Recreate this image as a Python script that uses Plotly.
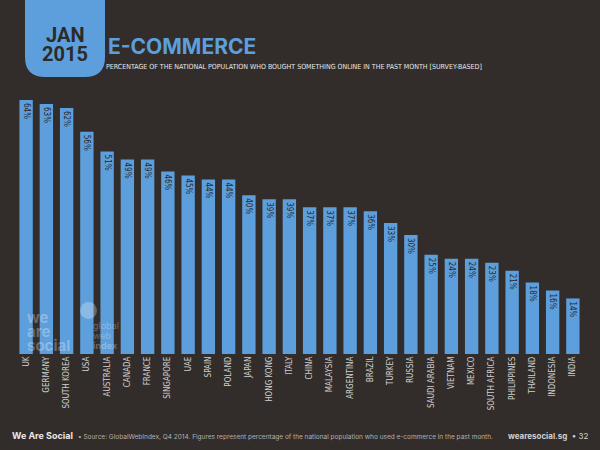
import plotly.graph_objects as go

countries = ["UK", "GERMANY", "SOUTH KOREA", "USA", "AUSTRALIA", "CANADA", "FRANCE",
             "SINGAPORE", "UAE", "SPAIN", "POLAND", "JAPAN", "HONG KONG", "ITALY",
             "CHINA", "MALAYSIA", "ARGENTINA", "BRAZIL", "TURKEY", "RUSSIA",
             "SAUDI ARABIA", "VIETNAM", "MEXICO", "SOUTH AFRICA", "PHILIPPINES",
             "THAILAND", "INDONESIA", "INDIA"]
ecommerce_pct = [64, 63, 62, 56, 51, 49, 49, 46, 45, 44, 44, 40, 39, 39,
                 37, 37, 37, 36, 33, 30, 25, 24, 24, 23, 21, 18, 16, 14]
bar_labels = [f"{v}%" for v in ecommerce_pct]

BG = "#322d2a"
BLUE = "#5d9fdc"
NARROW = "DejaVu Sans Condensed"

W, H = 600, 450
ML, MR, MT, MB = 16, 17, 100, 96

fig = go.Figure()
fig.add_trace(go.Bar(
    x=countries, y=ecommerce_pct,
    marker=dict(color=BLUE, line=dict(width=0)),
    text=bar_labels, textposition="inside", insidetextanchor="end",
    textangle=90, constraintext="none",
    textfont=dict(family=NARROW, size=8, color="#2a2a2a"),
    hoverinfo="x+y",
))

fig.update_layout(
    width=W, height=H,
    paper_bgcolor=BG, plot_bgcolor=BG,
    margin=dict(l=ML, r=MR, t=MT, b=MB),
    bargap=0.34,
    showlegend=False,
    xaxis=dict(tickangle=-90, showgrid=False, zeroline=False, showline=False,
               ticks="", range=[-0.5, 27.5],
               tickfont=dict(family=NARROW, size=8, color="#d0d0d0")),
    yaxis=dict(visible=False, range=[0, 64]),
)


# pixel -> paper coordinates
def px(x):
    return (x - ML) / (W - ML - MR)


def py(y):
    return (H - MB - y) / (H - MT - MB)


def note(x, y, text, size, color, family="Inter", anchor="center"):
    fig.add_annotation(x=px(x), y=py(y), xref="paper", yref="paper", showarrow=False,
                       xanchor=anchor, yanchor="middle", text=text,
                       font=dict(family=family, size=size, color=color))


# header box with rounded bottom corners
x0, x1, yt, yb = px(25), px(105), py(-5), py(77)
rx, ry = 20 / (W - ML - MR), 20 / (H - MT - MB)
fig.add_shape(type="path", xref="paper", yref="paper", layer="above",
              fillcolor=BLUE, line=dict(width=0),
              path=f"M {x0} {yt} L {x1} {yt} L {x1} {yb+ry} Q {x1} {yb} {x1-rx} {yb} "
                   f"L {x0+rx} {yb} Q {x0} {yb} {x0} {yb+ry} Z")

note(65, 35, "<b>JAN</b>", 20, "#2e2a28", "Roboto")
note(65, 54, "<b>2015</b>", 20, "#2e2a28", "Roboto")
note(106, 47, "<b>E-COMMERCE</b>", 21, BLUE, "Inter", "left")
note(104, 67, "PERCENTAGE OF THE NATIONAL POPULATION WHO BOUGHT SOMETHING ONLINE IN THE PAST MONTH [SURVEY-BASED]",
     7, "#e8e8e8", NARROW, "left")

# faint logos over the first bars
wm = "rgba(255,255,255,0.28)"
for i, word in enumerate(["we", "are", "social"]):
    note(25, 317 + i * 14, f"<b>{word}</b>", 15, wm, "Inter", "left")
fig.add_shape(type="circle", xref="paper", yref="paper", layer="above",
              x0=px(80), x1=px(97), y0=py(302), y1=py(319),
              fillcolor=wm, line=dict(width=0))
for i, word in enumerate(["global", "web", "<b>index</b>"]):
    note(91, 325 + i * 10, word, 9, wm, "Inter", "left")

# footer
note(10, 436, "<b>We Are Social</b>  <span style='font-size:6.5px;color:#b0b0b0'>"
              "• Source: GlobalWebIndex, Q4 2014. Figures represent percentage of the national "
              "population who used e-commerce in the past month.</span>",
     9, "#e8e8e8", "Inter", "left")
note(590, 436, "<b>wearesocial.sg</b>  • 32", 8, "#d0d0d0", "Inter", "right")

fig.write_html("out.html", config={"displayModeBar": False},
               post_script="document.body.style.margin='0';")
